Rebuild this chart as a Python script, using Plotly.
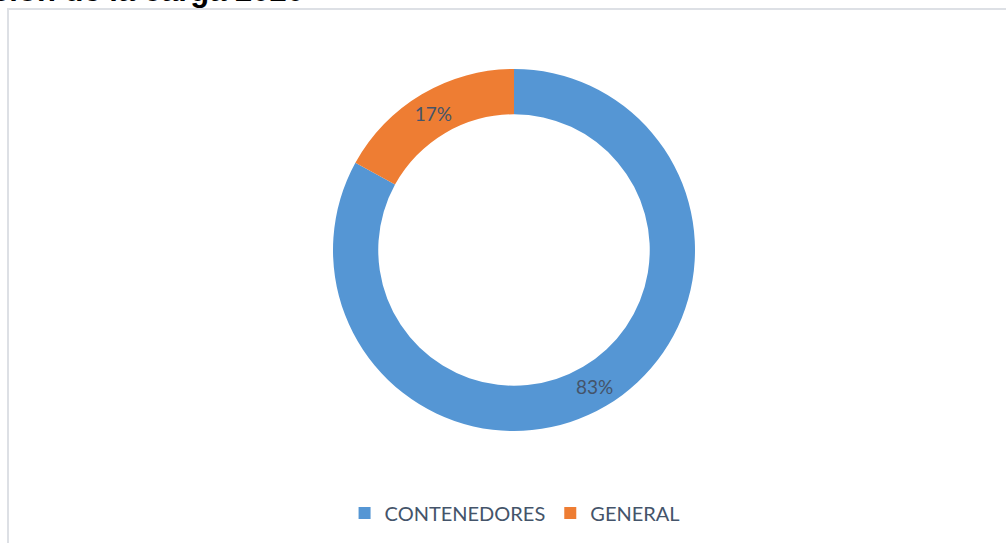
import plotly.graph_objects as go

W, H = 1006, 543

categories = ["CONTENEDORES", "GENERAL"]
values = [83, 17]
colors = ["#5596d4", "#ee7d33"]
title_text = "Distribución de la carga 2020"

def px_x(x):
    return x / W

def px_y(y):
    return 1 - y / H

fig = go.Figure(
    go.Pie(
        labels=categories,
        values=values,
        hole=0.75,
        sort=False,
        direction="clockwise",
        rotation=0,
        marker=dict(colors=colors, line=dict(color="white", width=0)),
        textinfo="percent",
        texttemplate="%{percent:.0%}",
        textposition="inside",
        insidetextorientation="horizontal",
        textfont=dict(family="Lato", size=19, color="#44546a"),
        domain=dict(x=[px_x(333), px_x(695)], y=[px_y(431), px_y(69)]),
        hoverinfo="label+percent",
    )
)

fig.update_layout(
    width=W,
    height=H,
    margin=dict(l=0, r=0, t=0, b=0),
    paper_bgcolor="white",
    plot_bgcolor="white",
    showlegend=True,
    legend=dict(
        orientation="h",
        x=0.512,
        xanchor="center",
        y=px_y(513),
        yanchor="middle",
        font=dict(family="Lato", size=20, color="#44546a"),
        itemclick=False,
    ),
    shapes=[
        dict(
            type="rect",
            xref="paper",
            yref="paper",
            x0=px_x(8),
            x1=px_x(1020),
            y0=px_y(560),
            y1=px_y(9),
            line=dict(color="#dde0e5", width=2),
            fillcolor="rgba(0,0,0,0)",
            layer="below",
        )
    ],
    annotations=[
        dict(
            text="<b>" + title_text + "</b>",
            xref="paper",
            yref="paper",
            x=px_x(306),
            xanchor="right",
            y=px_y(10.5),
            yanchor="bottom",
            showarrow=False,
            font=dict(family="Liberation Sans", size=31, color="black"),
        )
    ],
)

fig.write_html(
    "out.html",
    config={"displayModeBar": False},
    post_script="document.body.style.margin='0';document.body.style.padding='0';",
)
